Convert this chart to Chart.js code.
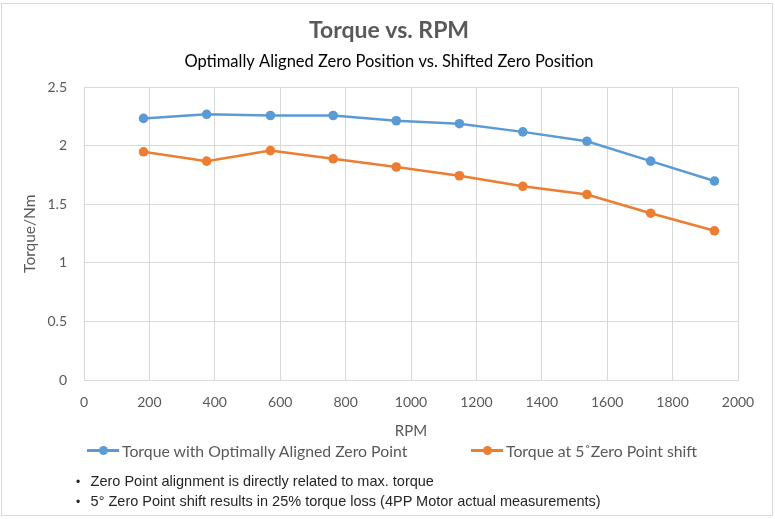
<!DOCTYPE html>
<html>
<head>
<meta charset="utf-8">
<script src="https://cdn.jsdelivr.net/npm/chart.js@4/dist/chart.umd.min.js"></script>
<style>
  html, body { margin: 0; padding: 0; background: #fff; }
  #wrap { position: relative; width: 775px; height: 519px; overflow: hidden; background: #fff; }
  #frame { position: absolute; left: 1px; top: 3px; width: 772px; height: 513px; box-sizing: border-box; border: 1px solid #d9d9d9; }
  #chart { position: absolute; left: 0; top: 0; }
  .leg { position: absolute; top: 441px; height: 18px; display: flex; align-items: center; font-family: Lato, sans-serif; font-size: 15.8px; color: #595959; white-space: nowrap; }
  .mk { position: relative; width: 32px; height: 18px; margin-right: 3px; }
  .mk .ln { position: absolute; left: 0; right: 0; top: 8px; height: 2.5px; }
  .mk .dt { position: absolute; left: 11.5px; top: 4.75px; width: 9px; height: 9px; border-radius: 50%; }
  .note { position: absolute; left: 76px; height: 18px; line-height: 18px; font-family: "Liberation Sans", Arial, sans-serif; font-size: 14.5px; color: #262626; white-space: nowrap; }
  .note .b { display: inline-block; width: 14.6px; font-size: 12px; }
</style>
</head>
<body>
<div id="wrap">
  <div id="frame"></div>
  <canvas id="chart" width="775" height="519"></canvas>
  <div id="legend"></div>
  <div id="notes"></div>
</div>
<script>
// ---- data ----
const rpm = [182, 375, 570, 762, 955, 1148, 1342, 1538, 1733, 1928];
const torqueAligned = [2.235, 2.27, 2.26, 2.26, 2.215, 2.19, 2.12, 2.04, 1.87, 1.70];
const torqueShifted = [1.95, 1.87, 1.96, 1.89, 1.82, 1.745, 1.655, 1.585, 1.425, 1.275];
const seriesNames = ['Torque with Optimally Aligned Zero Point', 'Torque at 5\u02DAZero Point shift'];
const xTickLabels = ['0', '200', '400', '600', '800', '1000', '1200', '1400', '1600', '1800', '2000'];
const yTickLabels = ['0', '0.5', '1', '1.5', '2', '2.5'];
const titleText = 'Torque vs. RPM';
const subtitleText = 'Optimally Aligned Zero Position vs. Shifted Zero Position';
const xTitle = 'RPM';
const yTitle = 'Torque/Nm';
const notes = [
  'Zero Point alignment is directly related to max. torque',
  '5\u00B0 Zero Point shift results in 25% torque loss (4PP Motor actual measurements)'
];

// ---- styles ----
const colors = ['#5B9BD5', '#ED7D31'];
const grey = '#595959';
const gridColor = '#d9d9d9';

function toPoints(xs, ys) { return xs.map((x, i) => ({ x: x, y: ys[i] })); }

function build() {
  Chart.defaults.font.family = 'Lato, sans-serif';
  Chart.defaults.color = grey;

  const seriesData = [torqueAligned, torqueShifted];
  const datasets = seriesNames.map((name, i) => ({
    label: name,
    data: toPoints(rpm, seriesData[i]),
    borderColor: colors[i],
    backgroundColor: colors[i],
    pointBackgroundColor: colors[i],
    pointBorderColor: colors[i],
    pointBorderWidth: 0,
    pointRadius: 4.8,
    borderWidth: 2.5,
    tension: 0,
    fill: false
  }));

  new Chart(document.getElementById('chart'), {
    type: 'line',
    data: { datasets: datasets },
    options: {
      responsive: false,
      animation: false,
      devicePixelRatio: 1,
      layout: { padding: { left: 21, right: 18, top: 0, bottom: 79 } },
      plugins: {
        legend: { display: false },
        tooltip: { enabled: false },
        title: {
          display: true, text: titleText, color: grey,
          font: { size: 23, weight: 'bold', family: 'Lato, sans-serif' },
          padding: { top: 17, bottom: 0 }
        },
        subtitle: {
          display: true, text: subtitleText, color: '#000000',
          font: { size: 16.5, family: 'Lato, sans-serif' },
          padding: { top: 7, bottom: 16 }
        }
      },
      scales: {
        x: {
          type: 'linear', min: 0, max: 2000,
          afterFit: (s) => { s.height = 60; s.paddingRight = 37; },
          grid: { color: gridColor, drawTicks: false, lineWidth: 1 },
          border: { color: gridColor, width: 1 },
          ticks: {
            stepSize: 200, padding: 14, color: grey, maxRotation: 0, autoSkip: false,
            font: { size: 14 },
            callback: (v, i) => xTickLabels[i]
          },
          title: { display: true, text: xTitle, color: grey, font: { size: 15 }, padding: { top: 0, bottom: 0 } }
        },
        y: {
          min: 0, max: 2.5,
          afterFit: (s) => { s.width = 63; },
          grid: { color: gridColor, drawTicks: false, lineWidth: 1 },
          border: { color: gridColor, width: 1 },
          ticks: {
            stepSize: 0.5, padding: 17, color: grey,
            font: { size: 14 },
            callback: (v, i) => yTickLabels[i]
          },
          title: { display: true, text: yTitle, color: grey, font: { size: 15.5 }, padding: { top: 0, bottom: 0 } }
        }
      }
    }
  });

  // legend (HTML)
  const legendLefts = [87, 471];
  const legend = document.getElementById('legend');
  seriesNames.forEach((name, i) => {
    const item = document.createElement('div');
    item.className = 'leg';
    item.style.left = legendLefts[i] + 'px';
    const mk = document.createElement('div');
    mk.className = 'mk';
    const ln = document.createElement('div'); ln.className = 'ln'; ln.style.background = colors[i];
    const dt = document.createElement('div'); dt.className = 'dt'; dt.style.background = colors[i];
    mk.appendChild(ln); mk.appendChild(dt);
    const tx = document.createElement('span'); tx.textContent = name;
    item.appendChild(mk); item.appendChild(tx);
    legend.appendChild(item);
  });

  // notes
  const noteTops = [471.5, 491.6];
  const notesEl = document.getElementById('notes');
  notes.forEach((t, i) => {
    const d = document.createElement('div');
    d.className = 'note';
    d.style.top = noteTops[i] + 'px';
    const b = document.createElement('span'); b.className = 'b'; b.textContent = '\u2022';
    const s = document.createElement('span'); s.textContent = t;
    d.appendChild(b); d.appendChild(s);
    notesEl.appendChild(d);
  });
}

if (document.fonts && document.fonts.load) {
  Promise.all([
    document.fonts.load('15px Lato'),
    document.fonts.load('bold 22px Lato'),
    document.fonts.load('13px "Liberation Sans"')
  ]).then(build, build);
} else {
  build();
}
</script>
</body>
</html>
